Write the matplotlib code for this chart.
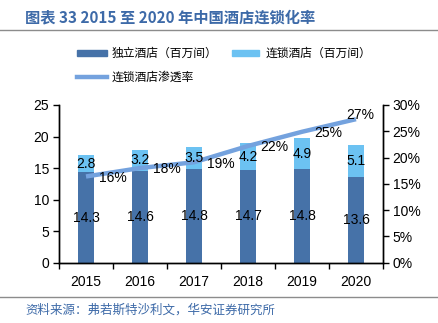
import matplotlib
matplotlib.use("Agg")
import matplotlib.pyplot as plt
from matplotlib.lines import Line2D
from matplotlib.patches import Rectangle

plt.rcParams['font.family'] = ['Liberation Sans', 'Noto Sans CJK SC', 'DejaVu Sans']

years = ['2015', '2016', '2017', '2018', '2019', '2020']
independent = [14.3, 14.6, 14.8, 14.7, 14.8, 13.6]
chain = [2.8, 3.2, 3.5, 4.2, 4.9, 5.1]
penetration = [0.164, 0.180, 0.191, 0.222, 0.249, 0.273]
pct_labels = ['16%', '18%', '19%', '22%', '25%', '27%']

c_dark = '#4672a8'
c_light = '#6cc2f2'
c_line = '#74a2de'
c_blue_text = '#3d6aa8'

fig = plt.figure(figsize=(4.38, 3.23), dpi=100)
ax = fig.add_axes([0.1347, 0.1867, 0.7397, 0.4883])
ax2 = ax.twinx()

x = list(range(len(years)))
w = 0.31
ax.bar(x, independent, w, color=c_dark, zorder=2)
ax.bar(x, chain, w, bottom=independent, color=c_light, zorder=2)

ax2.plot(x, penetration, color=c_line, lw=3.2, solid_capstyle='butt', zorder=3)

# value labels sit on top of the line, placed in bar (left-axis) units
for i in x:
    ax2.text(i, independent[i] / 2, f'{independent[i]:.1f}', transform=ax.transData,
             ha='center', va='center', fontsize=10, color='black', zorder=5)
    ax2.text(i, independent[i] + chain[i] / 2, f'{chain[i]:.1f}', transform=ax.transData,
             ha='center', va='center', fontsize=10, color='black', zorder=5)

for i in x:
    if i == len(x) - 1:
        ax2.annotate(pct_labels[i], (i, penetration[i]), xytext=(3, -2), textcoords='offset points',
                     ha='center', va='bottom', fontsize=10, zorder=5)
    else:
        ax2.annotate(pct_labels[i], (i, penetration[i]), xytext=(19, -1), textcoords='offset points',
                     ha='center', va='center', fontsize=10, zorder=5)

ax.set_xlim(-0.5, 5.5)
ax.set_ylim(0, 25)
ax.set_yticks([0, 5, 10, 15, 20, 25])
ax2.set_ylim(0, 0.30)
ax2.set_yticks([0, 0.05, 0.10, 0.15, 0.20, 0.25, 0.30])
ax2.set_yticklabels([f'{int(round(v * 100))}%' for v in ax2.get_yticks()])

ax.set_xticks(x)
ax.set_xticklabels(years)
ax.set_xticks([i - 0.5 for i in range(len(years) + 1)], minor=True)
ax.tick_params(axis='x', which='major', length=0, pad=9, labelsize=10)
ax.tick_params(axis='x', which='minor', length=4, direction='out', width=1)
ax.tick_params(axis='y', length=4, width=1, labelsize=10, pad=3)
ax2.tick_params(axis='y', length=4, width=1, labelsize=10, pad=3)

for a in (ax, ax2):
    a.spines['top'].set_visible(False)
    for s in ('left', 'right', 'bottom'):
        a.spines[s].set_linewidth(1.0)
        a.spines[s].set_color('black')

# legend drawn in figure coordinates
def fx(px):
    return px / 438

def fy(py):
    return 1 - py / 323

fig.patches.append(Rectangle((fx(77), fy(56)), fx(30), 6 / 323, transform=fig.transFigure, color=c_dark))
fig.text(fx(112), fy(53), '独立酒店（百万间）', fontsize=8.5, va='center', ha='left',
         family=['Noto Sans CJK SC', 'DejaVu Sans'])
fig.patches.append(Rectangle((fx(232), fy(56)), fx(27), 6 / 323, transform=fig.transFigure, color=c_light))
fig.text(fx(266), fy(53), '连锁酒店（百万间）', fontsize=8.5, va='center', ha='left',
         family=['Noto Sans CJK SC', 'DejaVu Sans'])
fig.lines.append(Line2D([fx(77), fx(107)], [fy(77), fy(77)], transform=fig.transFigure, color=c_line, lw=3.2))
fig.text(fx(112), fy(77), '连锁酒店渗透率', fontsize=8.5, va='center', ha='left',
         family=['Noto Sans CJK SC', 'DejaVu Sans'])

# header and footer
fig.text(fx(25), fy(17), '图表 33 2015 至 2020 年中国酒店连锁化率', fontsize=11, fontweight='bold',
         color=c_blue_text, va='center', ha='left', family=['Noto Sans CJK SC', 'DejaVu Sans'])
fig.lines.append(Line2D([0, 1], [fy(29.5), fy(29.5)], transform=fig.transFigure, color='#8c8c8c', lw=1))
fig.lines.append(Line2D([0, 1], [fy(296.5), fy(296.5)], transform=fig.transFigure, color='#8c8c8c', lw=1))
fig.text(fx(25), fy(310), '资料来源：弗若斯特沙利文，华安证券研究所', fontsize=9,
         color=c_blue_text, va='center', ha='left', family=['Noto Sans CJK SC', 'DejaVu Sans'])

fig.savefig('out.png', dpi=100)
